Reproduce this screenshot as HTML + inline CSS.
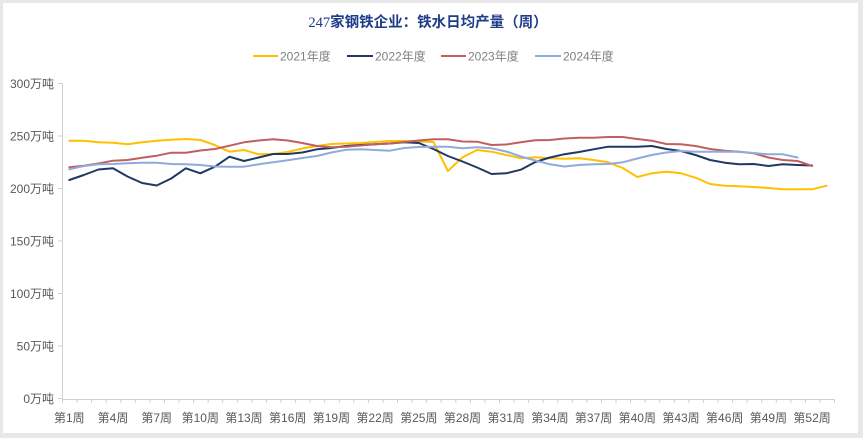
<!DOCTYPE html>
<html><head><meta charset="utf-8"><style>
html,body{margin:0;padding:0;background:#e8e8e8;}
svg{display:block;}
text{font-family:"Liberation Sans","Noto Sans CJK SC",sans-serif;}
</style></head><body>
<svg width="863" height="438" viewBox="0 0 863 438" xmlns="http://www.w3.org/2000/svg">
<rect x="0" y="0" width="863" height="438" fill="#e8e8e8"/>
<rect x="3" y="3" width="855" height="430" fill="#ffffff"/>
<text x="428" y="27" text-anchor="middle" font-size="14.5" font-weight="bold" fill="#1f3c88"><tspan font-family="Liberation Serif,serif" font-weight="normal">247</tspan><tspan font-family="Noto Sans CJK SC,sans-serif">家钢铁企业：铁水日均产量（周）</tspan></text>
<g font-size="12" fill="#808080">
<line x1="253" y1="56" x2="278" y2="56" stroke="#FFC000" stroke-width="2"/><text x="280" y="60.5">2021年度</text>
<line x1="347" y1="56" x2="373" y2="56" stroke="#1F3864" stroke-width="2"/><text x="375" y="60.5">2022年度</text>
<line x1="441" y1="56" x2="466" y2="56" stroke="#C0605E" stroke-width="2"/><text x="468" y="60.5">2023年度</text>
<line x1="535" y1="56" x2="561" y2="56" stroke="#8FAADC" stroke-width="2"/><text x="563" y="60.5">2024年度</text>
</g>
<g stroke="#d0d0d0" stroke-width="1" fill="none">
<line x1="62.5" y1="83.5" x2="62.5" y2="399"/>
<line x1="62" y1="399.5" x2="834.5" y2="399.5"/>
<path d="M58 83.5H62.5M58 136H62.5M58 188.5H62.5M58 241H62.5M58 293.5H62.5M58 346H62.5M58 398.5H62.5"/>
<path d="M62.5 399v4M77.1 399v4M91.6 399v4M106.2 399v4M120.8 399v4M135.3 399v4M149.9 399v4M164.5 399v4M179 399v4M193.6 399v4M208.2 399v4M222.7 399v4M237.3 399v4M251.9 399v4M266.4 399v4M281 399v4M295.6 399v4M310.1 399v4M324.7 399v4M339.3 399v4M353.8 399v4M368.4 399v4M383 399v4M397.5 399v4M412.1 399v4M426.7 399v4M441.2 399v4M455.8 399v4M470.4 399v4M484.9 399v4M499.5 399v4M514.1 399v4M528.6 399v4M543.2 399v4M557.8 399v4M572.3 399v4M586.9 399v4M601.5 399v4M616 399v4M630.6 399v4M645.2 399v4M659.7 399v4M674.3 399v4M688.9 399v4M703.4 399v4M718 399v4M732.6 399v4M747.1 399v4M761.7 399v4M776.3 399v4M790.8 399v4M805.4 399v4M820 399v4M834.5 399v4"/>
</g>
<g font-size="12" fill="#595959" text-anchor="end">
<text x="54" y="88">300万吨</text>
<text x="54" y="140.5">250万吨</text>
<text x="54" y="193">200万吨</text>
<text x="54" y="245.5">150万吨</text>
<text x="54" y="298">100万吨</text>
<text x="54" y="350.5">50万吨</text>
<text x="54" y="403">0万吨</text>
</g>
<g font-size="12" fill="#595959" text-anchor="middle">
<text x="69.3" y="422">第1周</text>
<text x="113" y="422">第4周</text>
<text x="156.7" y="422">第7周</text>
<text x="200.3" y="422">第10周</text>
<text x="244" y="422">第13周</text>
<text x="287.7" y="422">第16周</text>
<text x="331.4" y="422">第19周</text>
<text x="375.1" y="422">第22周</text>
<text x="418.8" y="422">第25周</text>
<text x="462.5" y="422">第28周</text>
<text x="506.2" y="422">第31周</text>
<text x="549.9" y="422">第34周</text>
<text x="593.6" y="422">第37周</text>
<text x="637.3" y="422">第40周</text>
<text x="681" y="422">第43周</text>
<text x="724.7" y="422">第46周</text>
<text x="768.4" y="422">第49周</text>
<text x="812.1" y="422">第52周</text>
</g>
<g fill="none" stroke-width="2" stroke-linejoin="round" stroke-linecap="round">
<polyline stroke="#FFC000" points="69.3,140.7 83.8,140.7 98.4,142.3 113,142.7 127.5,144.3 142.1,142.3 156.7,140.7 171.2,139.7 185.8,139 200.3,140 214.9,145 229.5,151.7 244,150 258.6,154.3 273.2,154 287.7,152 302.3,148.5 316.9,146 331.4,144 346,143.5 360.6,143 375.1,142 389.7,141 404.3,141 418.8,141.5 433.4,142 447.9,171 462.5,157.3 477.1,150 491.6,151.7 506.2,155 520.8,158.3 535.3,157.3 549.9,158.3 564.5,158.7 579,158.3 593.6,160 608.1,162.3 622.7,168 637.3,177 651.8,173.3 666.4,171.7 681,173.3 695.5,177.7 710.1,184 724.7,185.7 739.2,186.3 753.8,187 768.4,188 782.9,189.3 797.5,189.3 812.1,189.3 826.6,185.7"/>
<polyline stroke="#1F3864" points="69.3,180 83.8,175 98.4,169.5 113,168.3 127.5,176.5 142.1,183 156.7,185.5 171.2,178.5 185.8,168.3 200.3,173.3 214.9,166.7 229.5,156.7 244,161 258.6,157.5 273.2,154 287.7,154 302.3,152.5 316.9,149.3 331.4,148 346,146 360.6,145 375.1,144.2 389.7,143.5 404.3,142.3 418.8,143 433.4,149 447.9,156 462.5,161.5 477.1,167.5 491.6,174 506.2,173.3 520.8,169.7 535.3,162 549.9,157.5 564.5,154.2 579,152 593.6,149.3 608.1,146.7 622.7,146.7 637.3,146.7 651.8,146 666.4,149 681,151 695.5,155 710.1,160 724.7,162.7 739.2,164.3 753.8,164 768.4,166 782.9,164.3 797.5,165 812.1,165.5"/>
<polyline stroke="#C0605E" points="69.3,167.3 83.8,165.7 98.4,163.5 113,160.7 127.5,160 142.1,157.7 156.7,155.7 171.2,152.7 185.8,152.7 200.3,150.5 214.9,149 229.5,145.7 244,142.3 258.6,140.5 273.2,139.3 287.7,140.5 302.3,143 316.9,146 331.4,147.3 346,146.8 360.6,145.5 375.1,144.3 389.7,143.5 404.3,142 418.8,140.5 433.4,139.3 447.9,139.3 462.5,141.5 477.1,141.7 491.6,145 506.2,144.5 520.8,142.3 535.3,140.3 549.9,140 564.5,138.5 579,137.8 593.6,137.7 608.1,137 622.7,137 637.3,139 651.8,140.7 666.4,144 681,144.3 695.5,146 710.1,149 724.7,150.7 739.2,151.7 753.8,153.3 768.4,157.5 782.9,160 797.5,161 812.1,166"/>
<polyline stroke="#8FAADC" points="69.3,169.3 83.8,166 98.4,164.3 113,164 127.5,163.3 142.1,162.7 156.7,162.7 171.2,164 185.8,164.3 200.3,165 214.9,166.5 229.5,166.7 244,166.7 258.6,164.3 273.2,162.3 287.7,160.3 302.3,158 316.9,156 331.4,152.5 346,149.8 360.6,149.3 375.1,150 389.7,150.7 404.3,148 418.8,147 433.4,146.7 447.9,146.7 462.5,148.3 477.1,147.3 491.6,148.3 506.2,151.5 520.8,156.5 535.3,160.5 549.9,164.3 564.5,166.5 579,165 593.6,164.3 608.1,164 622.7,162.3 637.3,158.5 651.8,155 666.4,152.5 681,151 695.5,151.7 710.1,151.7 724.7,151.7 739.2,151.7 753.8,153 768.4,154.3 782.9,154.3 797.5,157.5"/>
</g>
</svg>
</body></html>
